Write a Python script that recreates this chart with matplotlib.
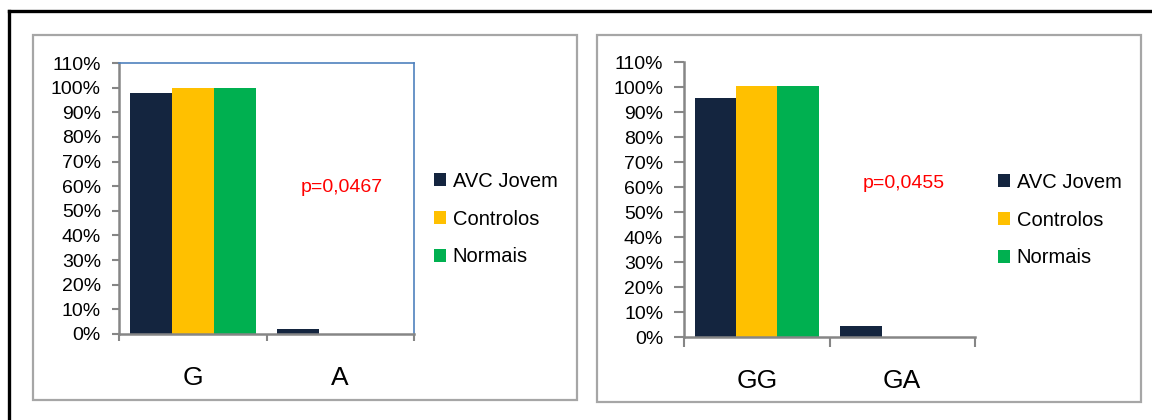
import matplotlib
matplotlib.use('Agg')
import matplotlib.pyplot as plt
from matplotlib.patches import Patch, Rectangle
from matplotlib.lines import Line2D

plt.rcParams['font.family'] = ['Liberation Sans', 'DejaVu Sans']

# dados
series = ['AVC Jovem', 'Controlos', 'Normais']
cores = ['#14253f', '#ffc000', '#00b050']

cat_esq = ['G', 'A']
avc_esq = [97.8, 2.2]
ctrl_esq = [100, 0]
norm_esq = [100, 0]
p_esq = 'p=0,0467'

cat_dir = ['GG', 'GA']
avc_dir = [95.7, 4.3]
ctrl_dir = [100.4, 0]
norm_dir = [100.4, 0]
p_dir = 'p=0,0455'

yticks = list(range(0, 111, 10))
ylabels = [f'{v}%' for v in yticks]

W, H = 1152, 420
fig = plt.figure(figsize=(W / 100, H / 100), dpi=100)


def fx(px):
    return px / W


def fy(py):
    return 1 - py / H


# moldura exterior preta (so topo e esquerda visiveis)
fig.add_artist(Line2D([fx(9), 1.0], [fy(11), fy(11)], color='black', lw=2.4))
fig.add_artist(Line2D([fx(9), fx(9)], [fy(11), 0.0], color='black', lw=2.4))

# caixas cinzentas dos paineis
for x0, x1, y0, y1 in [(33, 577, 35, 400), (597, 1141, 35, 402)]:
    fig.add_artist(Rectangle((fx(x0), fy(y1)), fx(x1 - x0), (y1 - y0) / H,
                             fill=False, edgecolor='#a6a6a6', lw=1.6))


def painel(rect, cats, valores, ptxt, ppos, legpos, caixa_azul, tick_len):
    ax = fig.add_axes(rect)
    largura = 0.285
    offs = [-largura, 0, largura]
    for vals, cor, off, nome in zip(valores, cores, offs, series):
        ax.bar([i + off for i in range(len(cats))], vals, width=largura,
               color=cor, label=nome, zorder=2)
    ax.set_xlim(-0.5, len(cats) - 0.5)
    ax.set_ylim(0, 110)
    ax.set_yticks(yticks)
    ax.set_yticklabels(ylabels, fontsize=14)
    ax.set_xticks(range(len(cats)))
    ax.set_xticklabels(cats, fontsize=19)
    ax.set_xticks([i - 0.5 for i in range(len(cats) + 1)], minor=True)
    ax.tick_params(axis='x', which='major', length=0, pad=23)
    ax.tick_params(axis='x', which='minor', length=tick_len, width=1.5,
                   color='#868686', direction='out')
    ax.tick_params(axis='y', length=tick_len, width=1.5, color='#868686',
                   pad=8)
    for s in ['left', 'bottom']:
        ax.spines[s].set_color('#868686')
        ax.spines[s].set_linewidth(1.8)
    if caixa_azul:
        for s in ['top', 'right']:
            ax.spines[s].set_color('#4f81bd')
            ax.spines[s].set_linewidth(1.2)
    else:
        for s in ['top', 'right']:
            ax.spines[s].set_visible(False)
    fig.text(fx(ppos[0]), fy(ppos[1]), ptxt, color='#ff0000', fontsize=14,
             ha='left', va='center')
    handles = [Patch(facecolor=c, edgecolor='none') for c in cores]
    fig.legend(handles, series, loc='upper left',
               bbox_to_anchor=(fx(legpos[0]), fy(legpos[1])),
               frameon=False, fontsize=14.5, borderpad=0, borderaxespad=0,
               handlelength=0.62, handleheight=0.62, handletextpad=0.3,
               labelspacing=0.93)
    return ax


painel([fx(119), fy(334), fx(414 - 119), (334 - 63) / H], cat_esq,
       [avc_esq, ctrl_esq, norm_esq], p_esq, (301, 188), (434, 172), True, 5)
painel([fx(684), fy(337), fx(975 - 684), (337 - 62.3) / H], cat_dir,
       [avc_dir, ctrl_dir, norm_dir], p_dir, (863, 183), (998, 173), False, 7)

fig.savefig('out.png', dpi=100)
